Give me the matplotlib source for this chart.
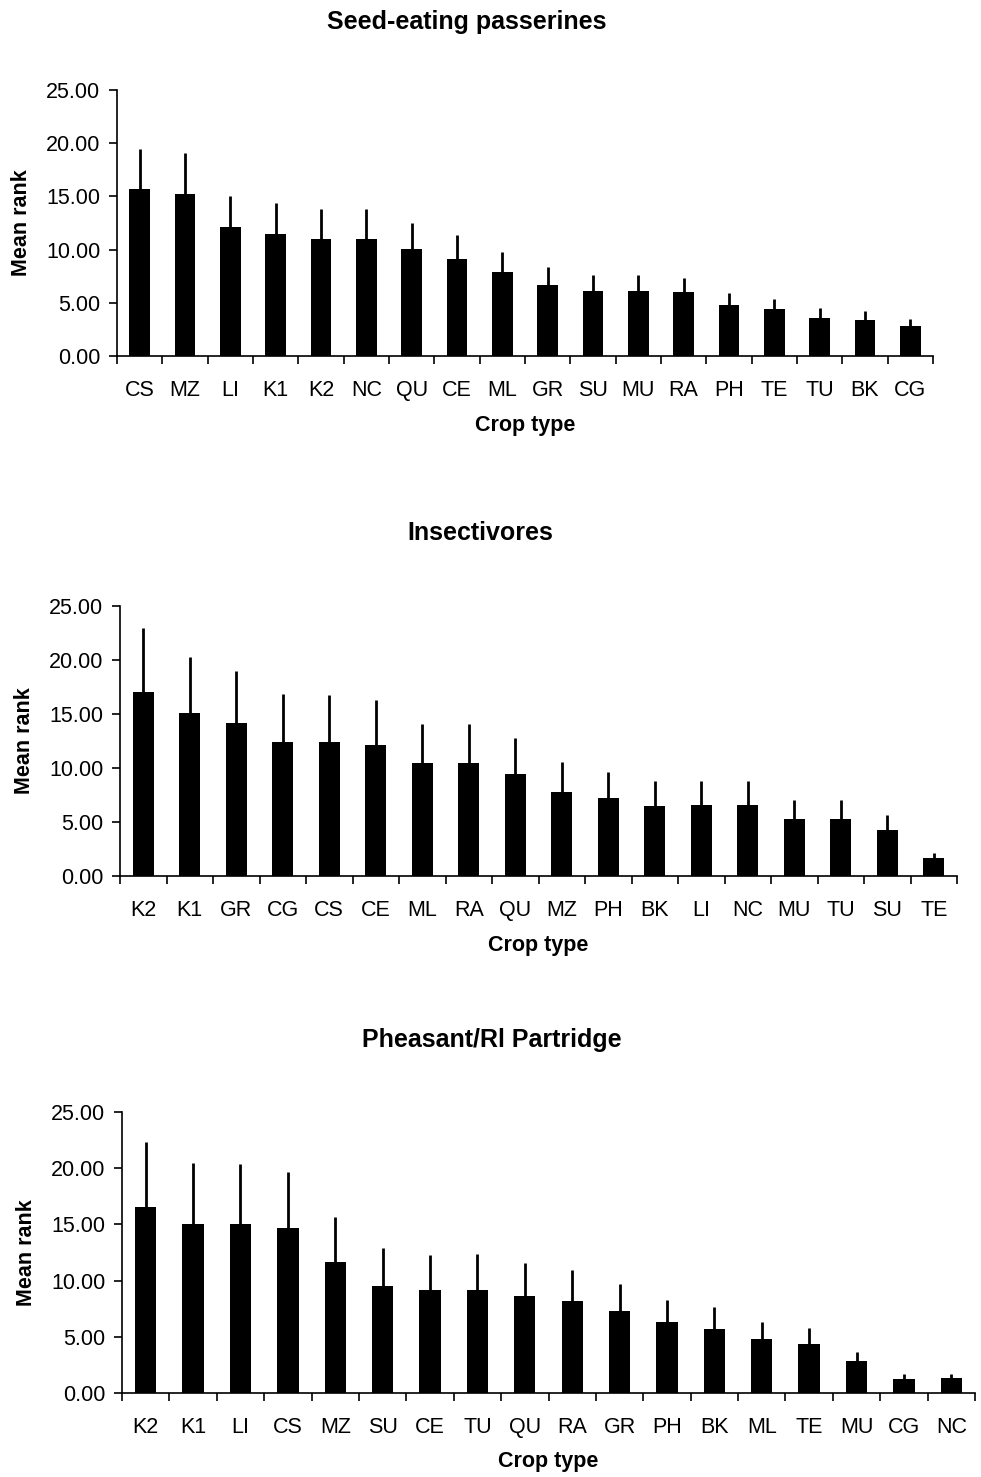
import numpy as np
import matplotlib
import matplotlib.pyplot as plt
from matplotlib.ticker import MultipleLocator, FixedLocator, NullFormatter, FormatStrFormatter

matplotlib.use('Agg')

plt.rcParams['font.family'] = ['Liberation Sans', 'DejaVu Sans']

# Panel 1: seed-eating passerines
seed_crops = ['CS', 'MZ', 'LI', 'K1', 'K2', 'NC', 'QU', 'CE', 'ML', 'GR',
              'SU', 'MU', 'RA', 'PH', 'TE', 'TU', 'BK', 'CG']
seed_mean = [15.67, 15.23, 12.10, 11.47, 11.00, 11.00, 10.09, 9.09, 7.89, 6.67,
             6.14, 6.14, 5.98, 4.76, 4.39, 3.60, 3.41, 2.79]
seed_upper = [19.50, 19.10, 15.04, 14.35, 13.80, 13.80, 12.53, 11.34, 9.80, 8.33,
              7.65, 7.65, 7.36, 5.92, 5.39, 4.48, 4.23, 3.48]

# Panel 2: insectivores
insect_crops = ['K2', 'K1', 'GR', 'CG', 'CS', 'CE', 'ML', 'RA', 'QU', 'MZ',
                'PH', 'BK', 'LI', 'NC', 'MU', 'TU', 'SU', 'TE']
insect_mean = [17.04, 15.10, 14.14, 12.44, 12.44, 12.10, 10.50, 10.50, 9.48, 7.81,
               7.22, 6.52, 6.58, 6.58, 5.25, 5.28, 4.26, 1.64]
insect_upper = [23.00, 20.30, 18.96, 16.82, 16.80, 16.27, 14.07, 14.10, 12.78, 10.60,
                9.67, 8.77, 8.80, 8.80, 7.00, 7.03, 5.68, 2.13]

# Panel 3: pheasant / red-legged partridge
game_crops = ['K2', 'K1', 'LI', 'CS', 'MZ', 'SU', 'CE', 'TU', 'QU', 'RA',
              'GR', 'PH', 'BK', 'ML', 'TE', 'MU', 'CG', 'NC']
game_mean = [16.59, 15.02, 15.02, 14.69, 11.69, 9.55, 9.13, 9.16, 8.60, 8.21,
             7.26, 6.33, 5.71, 4.76, 4.40, 2.85, 1.28, 1.37]
game_upper = [22.30, 20.43, 20.40, 19.63, 15.70, 12.88, 12.31, 12.35, 11.57, 10.97,
              9.67, 8.27, 7.67, 6.33, 5.80, 3.66, 1.67, 1.70]

titles = ['Seed-eating passerines', 'Insectivores', 'Pheasant/Rl Partridge']
panels = [(seed_crops, seed_mean, seed_upper),
          (insect_crops, insect_mean, insect_upper),
          (game_crops, game_mean, game_upper)]

W, H = 981, 1477
fig = plt.figure(figsize=(W / 100, H / 100), dpi=100)

# axes boxes in pixels: left, right, top(25), bottom(0)
boxes = [(117, 933, 90, 356), (120, 957, 606, 876), (122, 975, 1112, 1393)]
# title centre (x, y) in pixels
title_pos = [(467, 22), (480, 533), (492, 1040)]

for (crops, mean, upper), title, box, tp in zip(panels, titles, boxes, title_pos):
    l, r, t, b = box
    ax = fig.add_axes([l / W, 1 - b / H, (r - l) / W, (b - t) / H])
    x = np.arange(len(crops))
    err = np.array(upper) - np.array(mean)
    ax.bar(x, mean, width=0.45, color='black', zorder=2)
    ax.errorbar(x, mean, yerr=[np.zeros(len(x)), err], fmt='none',
                ecolor='black', elinewidth=2, capsize=0, zorder=3)
    ax.set_xlim(-0.5, len(crops) - 0.5)
    ax.set_ylim(0, 25)
    ax.yaxis.set_major_locator(MultipleLocator(5))
    ax.yaxis.set_major_formatter(FormatStrFormatter('%.2f'))
    ax.set_xticks(x)
    ax.set_xticklabels(crops)
    ax.xaxis.set_minor_locator(FixedLocator(np.arange(-0.5, len(crops), 1)))
    ax.xaxis.set_minor_formatter(NullFormatter())
    ax.tick_params(axis='x', which='major', length=0, pad=17, labelsize=15.5)
    ax.tick_params(axis='x', which='minor', length=6, width=1.2, direction='out')
    ax.tick_params(axis='y', length=6, width=1.2, direction='out', labelsize=15.5, pad=6)
    for side in ['top', 'right']:
        ax.spines[side].set_visible(False)
    for side in ['left', 'bottom']:
        ax.spines[side].set_linewidth(1.2)
    ax.set_xlabel('Crop type', fontsize=15.5, fontweight='bold', labelpad=10)
    ax.set_ylabel('Mean rank', fontsize=15.5, fontweight='bold', labelpad=10)
    fig.text(tp[0] / W, 1 - tp[1] / H, title, ha='center', va='center',
             fontsize=18, fontweight='bold')

plt.savefig('out.png', dpi=100)
